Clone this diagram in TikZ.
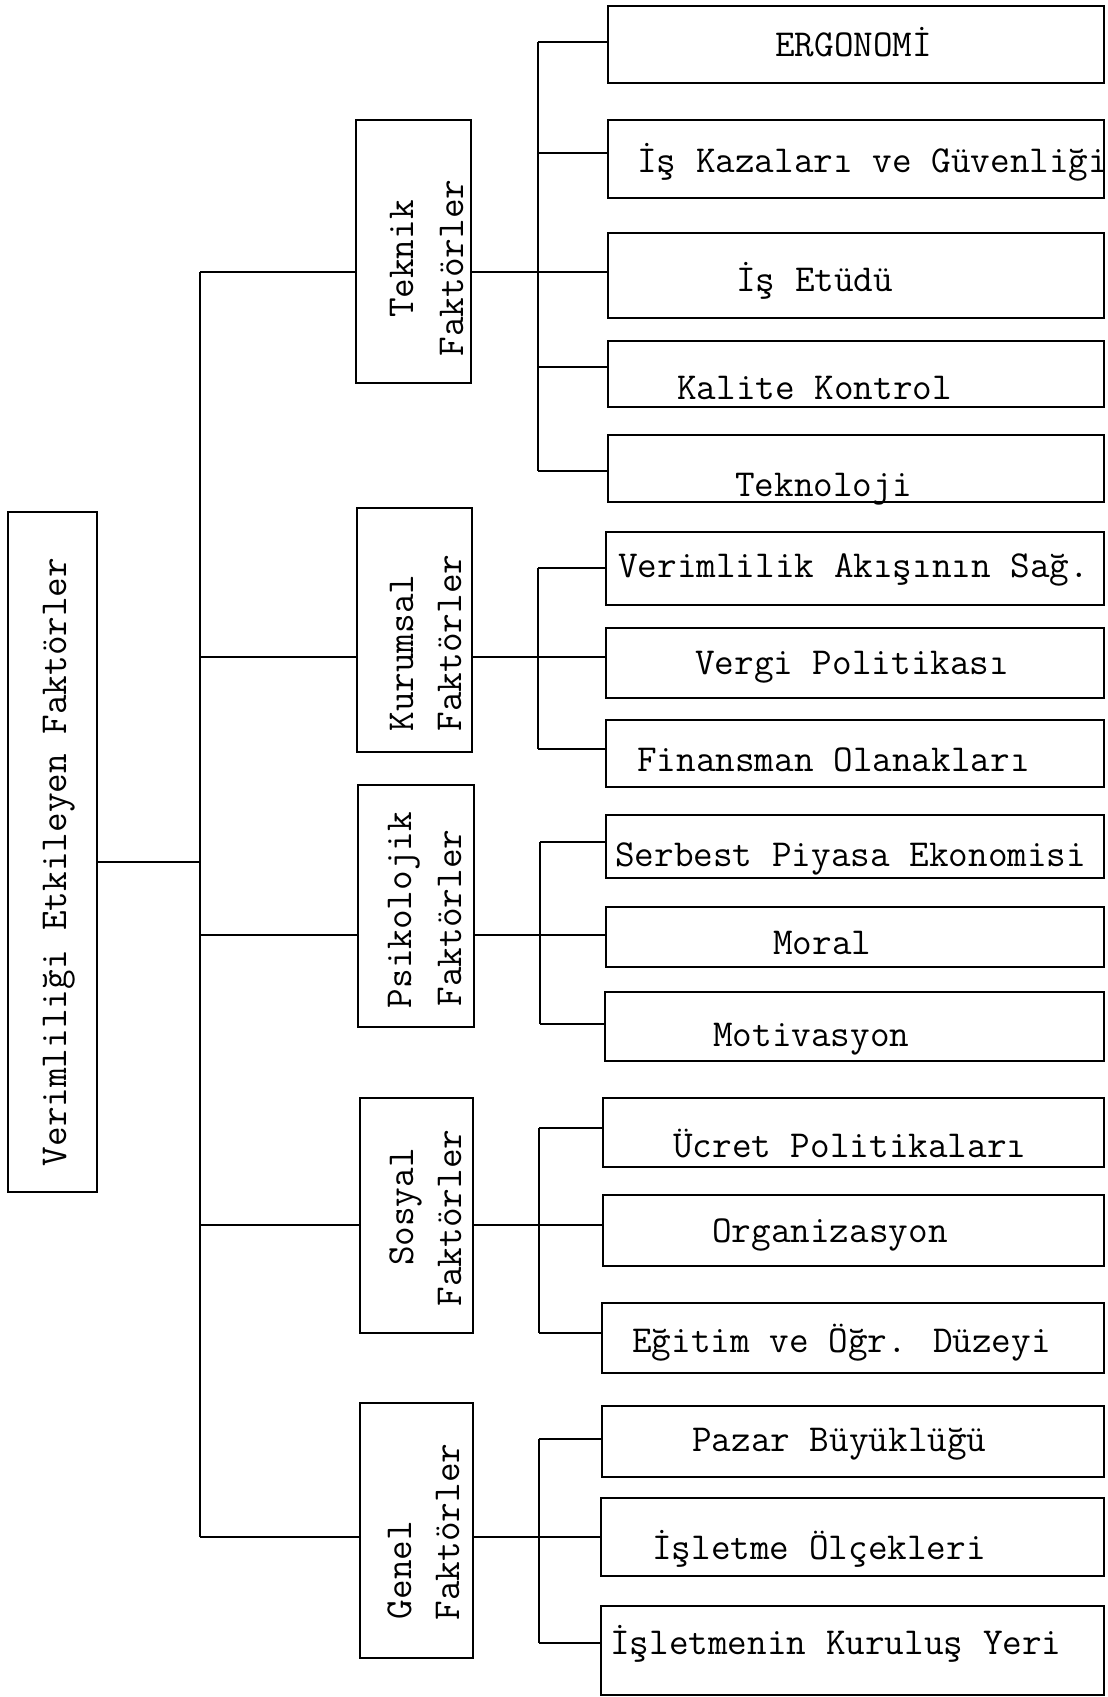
\documentclass[tikz,border=0pt]{standalone}
\begin{document}
\begin{tikzpicture}[x=1pt,y=-1pt]
\tikzset{
 ln/.style={line width=2.8pt},
 boxst/.style={draw, line width=2.8pt, inner sep=0pt, outer sep=0pt},
 txt/.style={font=\ttfamily\fontsize{38.1}{40}\selectfont, inner sep=0pt, text height=26pt, text depth=8pt},
 vtxt/.style={txt, rotate=90, anchor=center},
 ltxt/.style={txt, anchor=west},
}
\newcommand\mkbox[5]{\node[boxst, minimum width={(#4)-(#2)}, minimum height={(#5)-(#3)}] (#1) at ({((#2)+(#4))/2},{((#3)+(#5))/2}) {};}
\useasboundingbox (0,0) rectangle (1108,1697);
\fill[white] (0,0) rectangle (1108,1697);

% root
\mkbox{root}{8}{512}{97}{1192}
\node[vtxt] (troot) at (57,862) {Verimliliği Etkileyen Faktörler};

% categories
\mkbox{tek}{356}{120}{471}{383}
\mkbox{kur}{357}{508}{472}{752}
\mkbox{psi}{358}{785}{474}{1027}
\mkbox{sos}{360}{1098}{473}{1333}
\mkbox{gen}{360}{1403}{473}{1658}

\node[vtxt] (ttek1) at (404,259) {Teknik};
\node[vtxt] (ttek2) at (454,268) {Faktörler};
\node[vtxt] (tkur1) at (404,653) {Kurumsal};
\node[vtxt] (tkur2) at (452,643) {Faktörler};
\node[vtxt] (tpsi1) at (402,910) {Psikolojik};
\node[vtxt] (tpsi2) at (452,918) {Faktörler};
\node[vtxt] (tsos1) at (404,1207) {Sosyal};
\node[vtxt] (tsos2) at (452,1218) {Faktörler};
\node[vtxt] (tgen1) at (402,1570) {Genel};
\node[vtxt] (tgen2) at (450,1532) {Faktörler};

% leaves
\mkbox{ergo}{608}{6}{1104}{83}
\mkbox{kaza}{608}{120}{1104}{198}
\mkbox{etud}{608}{233}{1104}{318}
\mkbox{kali}{608}{341}{1104}{407}
\mkbox{tekn}{608}{435}{1104}{502}
\mkbox{veri}{606}{532}{1104}{605}
\mkbox{verg}{606}{628}{1104}{698}
\mkbox{fina}{606}{720}{1104}{787}
\mkbox{serb}{606}{815}{1104}{878}
\mkbox{mora}{606}{907}{1104}{967}
\mkbox{moti}{605}{992}{1104}{1061}
\mkbox{ucre}{603}{1098}{1104}{1167}
\mkbox{orga}{603}{1195}{1104}{1266}
\mkbox{egit}{602}{1303}{1104}{1373}
\mkbox{paza}{602}{1406}{1104}{1477}
\mkbox{islo}{601}{1498}{1104}{1576}
\mkbox{iskr}{601}{1606}{1104}{1695}

\node[ltxt] (tergo) at (775,47) {ERGONOMİ};
\node[ltxt] (tkaza) at (637,163) {İş Kazaları ve Güvenliği};
\node[ltxt] (tetud) at (736,282) {İş Etüdü};
\node[ltxt] (tkali) at (677,390) {Kalite Kontrol};
\node[ltxt] (ttekn) at (735,487) {Teknoloji};
\node[ltxt] (tveri) at (618,568) {Verimlilik Akışının Sağ.};
\node[ltxt] (tverg) at (695,665) {Vergi Politikası};
\node[ltxt] (tfina) at (637,762) {Finansman Olanakları};
\node[ltxt] (tserb) at (615,857) {Serbest Piyasa Ekonomisi};
\node[ltxt] (tmora) at (773,945) {Moral};
\node[ltxt] (tmoti) at (713,1037) {Motivasyon};
\node[ltxt] (tucre) at (673,1148) {Ücret Politikaları};
\node[ltxt] (torga) at (712,1233) {Organizasyon};
\node[ltxt] (tegit) at (632,1343) {Eğitim ve Öğr. Düzeyi};
\node[ltxt] (tpaza) at (692,1442) {Pazar Büyüklüğü};
\node[ltxt] (tislo) at (652,1550) {İşletme Ölçekleri};
\node[ltxt] (tiskr) at (610,1645) {İşletmenin Kuruluş Yeri};

% trunk
\coordinate (jr) at (200,862);
\coordinate (jtek) at (200,272);
\coordinate (jkur) at (200,657);
\coordinate (jpsi) at (200,935);
\coordinate (jsos) at (200,1225);
\coordinate (jgen) at (200,1537);
\draw[ln] (jr -| root.east) -- (jr);
\draw[ln] (jtek) -- (jgen);
\draw[ln] (jtek) -- (jtek -| tek.west);
\draw[ln] (jkur) -- (jkur -| kur.west);
\draw[ln] (jpsi) -- (jpsi -| psi.west);
\draw[ln] (jsos) -- (jsos -| sos.west);
\draw[ln] (jgen) -- (jgen -| gen.west);

% Teknik group
\coordinate (a1) at (538,42);
\coordinate (a2) at (538,153);
\coordinate (a3) at (538,272);
\coordinate (a4) at (538,367);
\coordinate (a5) at (538,471);
\draw[ln] (a1) -- (a5);
\draw[ln] (a1) -- (a1 -| ergo.west);
\draw[ln] (a2) -- (a2 -| kaza.west);
\draw[ln] (a3 -| tek.east) -- (a3 -| etud.west);
\draw[ln] (a4) -- (a4 -| kali.west);
\draw[ln] (a5) -- (a5 -| tekn.west);

% Kurumsal group
\coordinate (b1) at (538,568);
\coordinate (b2) at (538,657);
\coordinate (b3) at (538,749);
\draw[ln] (b1) -- (b3);
\draw[ln] (b1) -- (b1 -| veri.west);
\draw[ln] (b2 -| kur.east) -- (b2 -| verg.west);
\draw[ln] (b3) -- (b3 -| fina.west);

% Psikolojik group
\coordinate (c1) at (540,842);
\coordinate (c2) at (540,935);
\coordinate (c3) at (540,1024);
\draw[ln] (c1) -- (c3);
\draw[ln] (c1) -- (c1 -| serb.west);
\draw[ln] (c2 -| psi.east) -- (c2 -| mora.west);
\draw[ln] (c3) -- (c3 -| moti.west);

% Sosyal group
\coordinate (d1) at (539,1128);
\coordinate (d2) at (539,1225);
\coordinate (d3) at (539,1333);
\draw[ln] (d1) -- (d3);
\draw[ln] (d1) -- (d1 -| ucre.west);
\draw[ln] (d2 -| sos.east) -- (d2 -| orga.west);
\draw[ln] (d3) -- (d3 -| egit.west);

% Genel group
\coordinate (e1) at (539,1439);
\coordinate (e2) at (539,1537);
\coordinate (e3) at (539,1643);
\draw[ln] (e1) -- (e3);
\draw[ln] (e1) -- (e1 -| paza.west);
\draw[ln] (e2 -| gen.east) -- (e2 -| islo.west);
\draw[ln] (e3) -- (e3 -| iskr.west);
\end{tikzpicture}
\end{document}
